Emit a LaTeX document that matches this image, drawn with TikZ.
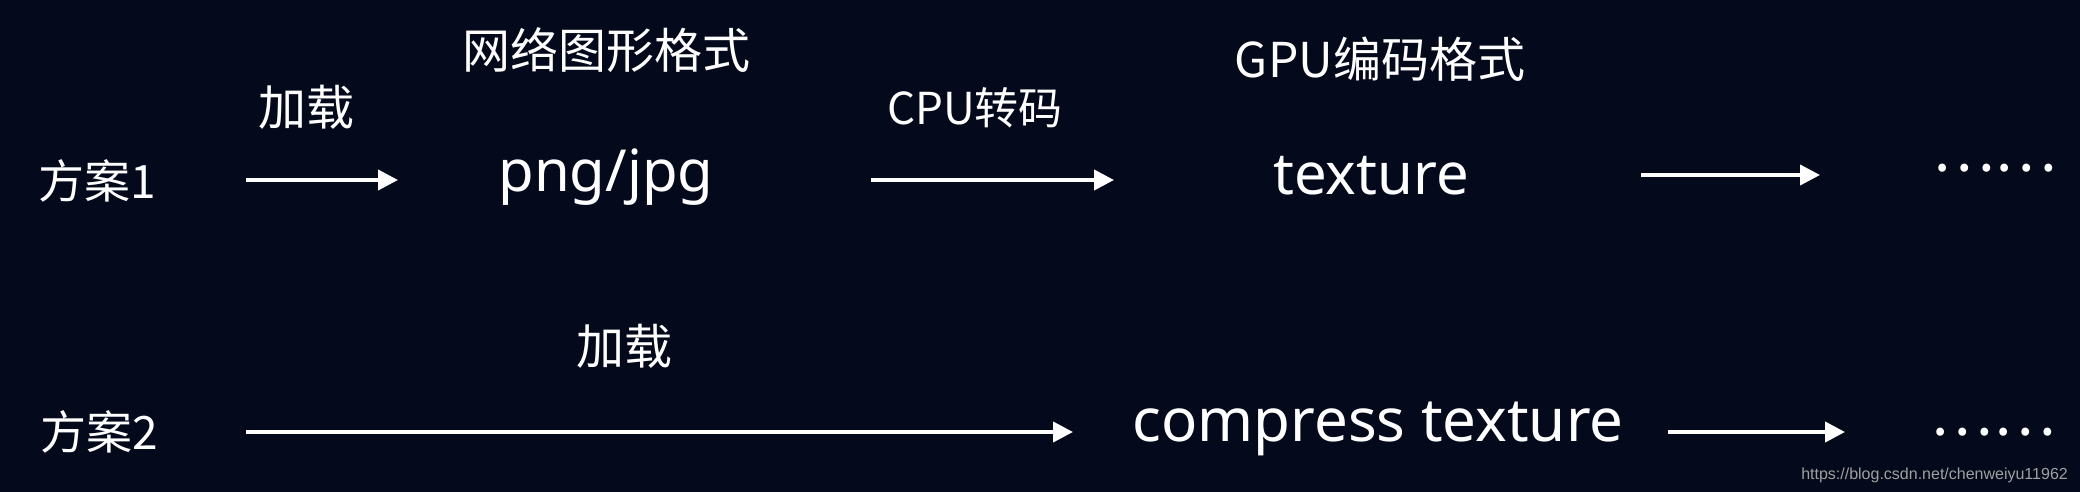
\documentclass[tikz,border=0pt]{standalone}
\usepackage{fontspec}
\setmainfont{Noto Sans}
\newfontfamily\cjk{Noto Sans CJK SC}
\newfontfamily\wmfont{Liberation Sans}
\usetikzlibrary{arrows.meta}
\definecolor{bg}{HTML}{040A1C}
\definecolor{wmgray}{HTML}{A0A0A0}
\begin{document}
\begin{tikzpicture}[x=1pt,y=-1pt,
  lbl/.style={text=white,inner sep=0pt,font=\cjk\fontsize{48}{52}\selectfont},
  plan/.style={text=white,inner sep=0pt,font=\cjk\fontsize{46}{50}\selectfont},
  term/.style={text=white,inner sep=0pt,font=\fontsize{58}{62}\selectfont},
  moredots/.style={text=white,inner sep=0pt,font=\cjk\fontsize{59}{62}\selectfont},
  flow/.style={white,line width=4pt,-{Triangle[length=20pt,width=20pt]}}]
\fill[bg] (0,0) rectangle (2080,492);
\useasboundingbox (0,0) rectangle (2080,492);
% row 1
\node[plan] (p1) at (97,181) {方案1};
\node[lbl] (load1) at (306,107) {加载};
\node[lbl] (netfmt) at (606,50) {网络图形格式};
\node[term] (png) at (606,177) {png/jpg};
\node[lbl,font=\cjk\fontsize{44}{48}\selectfont] (cpu) at (975,108) {CPU转码};
\node[lbl] (gpufmt) at (1380,59) {GPU编码格式};
\node[term] (tex) at (1371,176) {texture};
\node[moredots] (more1) at (1994.5,168) {……};
% row 2
\node[plan] (p2) at (99,432) {方案2};
\node[lbl] (load2) at (624,346) {加载};
\node[term,font=\fontsize{60}{64}\selectfont] (ctex) at (1378,429) {compress texture};
\node[moredots] (more2) at (1993,432) {……};
% watermark
\node[text=wmgray,font=\wmfont\fontsize{16}{18}\selectfont,anchor=base east,inner sep=0pt] (wm) at (2068,479) {https://blog.csdn.net/chenweiyu11962};
% arrows
\coordinate (a1s) at (246,180); \coordinate (a1e) at (398,180);
\coordinate (a2s) at (871,180); \coordinate (a2e) at (1114,180);
\coordinate (a3s) at (1641,175); \coordinate (a3e) at (1820,175);
\coordinate (a4s) at (246,432); \coordinate (a4e) at (1073,432);
\coordinate (a5s) at (1668,432); \coordinate (a5e) at (1845,432);
\draw[flow] (a1s) -- (a1e);
\draw[flow] (a2s) -- (a2e);
\draw[flow] (a3s) -- (a3e);
\draw[flow] (a4s) -- (a4e);
\draw[flow] (a5s) -- (a5e);
\end{tikzpicture}
\end{document}
